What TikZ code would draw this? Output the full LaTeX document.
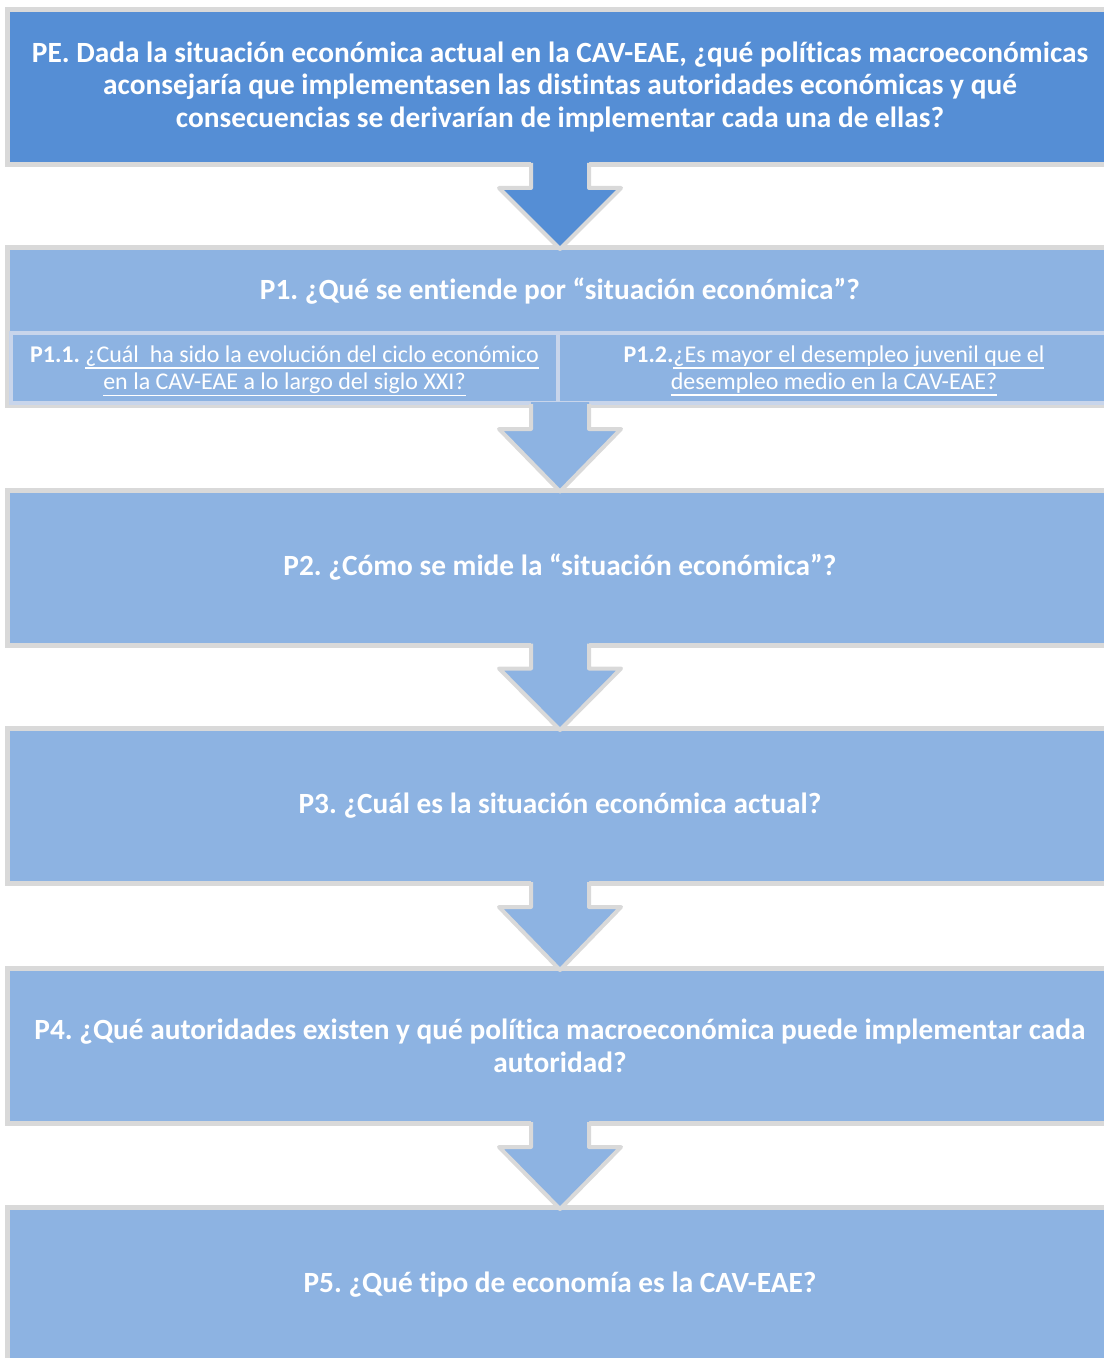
\documentclass[tikz,border=0pt]{standalone}
\usepackage{fontspec}
\setmainfont{Carlito}[Ligatures=NoCommon]
\usetikzlibrary{calc}
\frenchspacing

\definecolor{azulosc}{RGB}{85,142,213}
\definecolor{azulcla}{RGB}{141,179,226}
\definecolor{gris}{RGB}{217,217,217}
\definecolor{separa}{RGB}{200,213,235}

% thicker underline for the linked questions
\newcommand{\subrayado}[1]{\leavevmode\vtop{\hbox{#1}\kern0.6pt\hrule height 1.1pt}}

% block arrow from the bottom of #1 to the top of #2, filled with #3
\newcommand{\flecha}[3]{%
  \fill[#3] ($(#1.south)+(-29,-6)$) -- ($(#1.south)+(-29,21)$) -- ($(#1.south)+(-61,21)$) -- ($(#2.north)+(0,4)$) -- ($(#1.south)+(61,21)$) -- ($(#1.south)+(29,21)$) -- ($(#1.south)+(29,-6)$) -- cycle ;
  \draw[bordeflecha] ($(#1.south)+(-29,-4)$) -- ($(#1.south)+(-29,21)$) -- ($(#1.south)+(-61,21)$) -- ($(#2.north)+(0,4)$) -- ($(#1.south)+(61,21)$) -- ($(#1.south)+(29,21)$) -- ($(#1.south)+(29,-4)$) ;
}

\begin{document}
\begin{tikzpicture}[x=0.75pt,y=0.75pt,yscale=-1,xscale=1,
  caja/.style={draw=gris, line width=3.75pt, fill=#1, minimum width=828.75pt, minimum height=116.25pt, text width=815pt, align=flush center, inner sep=0pt, text=white, font=\fontsize{22}{24.4}\selectfont\bfseries},
  subcaja/.style={draw=separa, line width=3pt, fill=azulcla, minimum height=52.5pt, align=center, inner sep=0pt, text depth=0pt, text=white, font=\fontsize{18}{20.25}\selectfont},
  bordeflecha/.style={draw=gris, line width=3pt, line join=round}]
\useasboundingbox (0,0) rectangle (1103,1358);

%Shape: Rectangle [PE]
\node[caja=azulosc] (pe) at (560,87) {PE. Dada la situación económica actual en la CAV-EAE, ¿qué políticas macroeconómicas\\ aconsejaría que implementasen las distintas autoridades económicas y qué\\ consecuencias se derivarían de implementar cada una de ellas?};

%Shape: Rectangle [P1]
\node[caja=azulcla, minimum height=118.5pt] (p1) at (560,326.5) {};
% Text Node
\node[text=white, inner sep=0.75pt, font=\fontsize{22}{24.4}\selectfont\bfseries] (p1t) at (560,291) {P1. ¿Qué se entiende por “situación económica”?};
%Shape: Rectangle [P1.1]
\node[subcaja, minimum width=410.25pt] (p11) at (284.5,367.75) {\textbf{P1.1.} \subrayado{¿Cuál\ \ ha sido la evolución del ciclo económico}\\ \subrayado{en la CAV-EAE a lo largo del siglo XXI?}};
%Shape: Rectangle [P1.2]
\node[subcaja, minimum width=414pt] (p12) at (834,367.75) {\textbf{P1.2.}\subrayado{¿Es mayor el desempleo juvenil que el}\\ \subrayado{desempleo medio en la CAV-EAE?}};

%Shape: Rectangle [P2]
\node[caja=azulcla] (p2) at (560,567.5) {P2. ¿Cómo se mide la “situación económica”?};
%Shape: Rectangle [P3]
\node[caja=azulcla] (p3) at (560,806) {P3. ¿Cuál es la situación económica actual?};
%Shape: Rectangle [P4]
\node[caja=azulcla] (p4) at (560,1046) {P4. ¿Qué autoridades existen y qué política macroeconómica puede implementar cada\\ autoridad?};
%Shape: Rectangle [P5]
\node[caja=azulcla] (p5) at (560,1285) {P5. ¿Qué tipo de economía es la CAV-EAE?};

%Block Arrows
\flecha{pe}{p1}{azulosc}
\flecha{p1}{p2}{azulcla}
\flecha{p2}{p3}{azulcla}
\flecha{p3}{p4}{azulcla}
\flecha{p4}{p5}{azulcla}

\end{tikzpicture}
\end{document}
